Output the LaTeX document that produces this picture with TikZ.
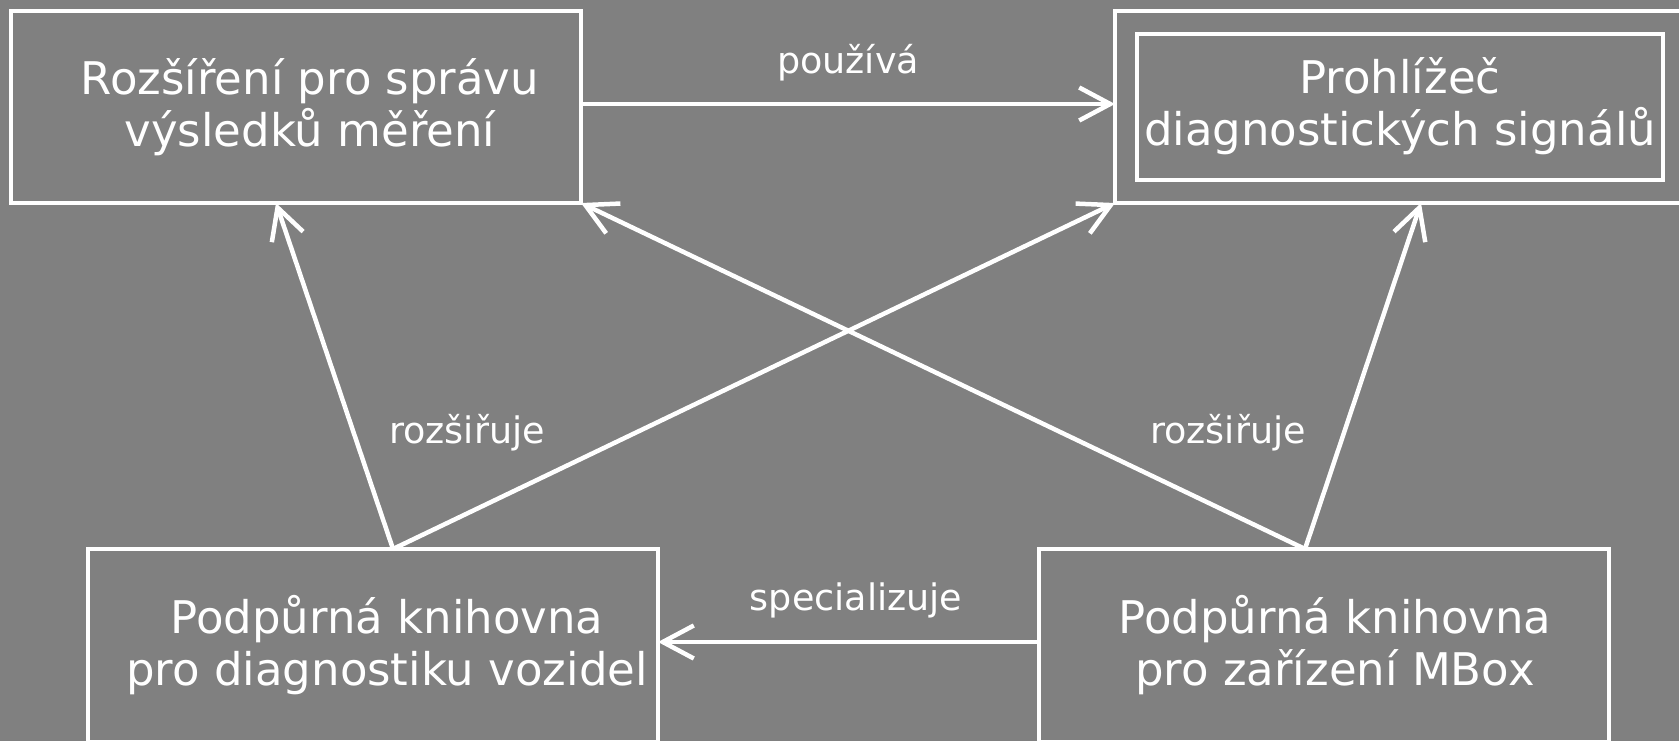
\documentclass[tikz,border=0pt]{standalone}
\usepackage{fontspec}
\setmainfont{DejaVu Sans}
\usetikzlibrary{arrows.meta}
\definecolor{bg}{HTML}{808080}
\begin{document}
\begin{tikzpicture}[x=1pt,y=-1pt,
  box/.style={draw=white, line width=4.5pt, inner sep=0pt, outer sep=0pt, anchor=north west},
  boxtext/.style={text=white, align=center, anchor=base, inner sep=0pt, font=\fontsize{45}{52}\selectfont},
  lbl/.style={text=white, anchor=base, inner sep=0pt, font=\fontsize{36.5}{44}\selectfont},
  conn/.style={draw=white, line width=4.5pt, -{Straight Barb[length=31pt,width=33pt]}},
]
\useasboundingbox (0,0) rectangle (1679,741);
\fill[bg] (0,0) rectangle (1679,741);
\clip (0,0) rectangle (1679,741);

\node[box, minimum width=570pt, minimum height=192pt] (A) at (11,11) {};
\node[box, minimum width=600pt, minimum height=192pt] (Bo) at (1115,11) {};
\node[box, minimum width=526pt, minimum height=146pt] (Bi) at (1137,34) {};
\node[box, minimum width=570pt, minimum height=193pt] (C) at (88,549) {};
\node[box, minimum width=570pt, minimum height=193pt] (D) at (1039,549) {};

\node[boxtext] (At) at (310,147) {Rozšíření pro správu\\výsledků měření};
\node[boxtext] (Bt) at (1400,146) {Prohlížeč\\diagnostických signálů};
\node[boxtext] (Ct) at (387,685) {Podpůrná knihovna\\pro diagnostiku vozidel};
\node[boxtext] (Dt) at (1335,685) {Podpůrná knihovna\\pro zařízení MBox};

\path (Bi.south) ++(21,0) coordinate (Bix);
\coordinate (Btip) at (Bix |- Bo.south);

\draw[conn] ([yshift=3pt]A.east) -- ([yshift=3pt]A.east -| Bo.west);
\draw[conn] ([xshift=20pt]C.north) -- ([xshift=-20pt]A.south);
\draw[conn] ([xshift=20pt]C.north) -- (Bo.south west);
\draw[conn] ([xshift=-19pt]D.north) -- (A.south east);
\draw[conn] ([xshift=-19pt]D.north) -- (Btip);
\draw[conn] ([yshift=3.5pt]D.west) -- ([yshift=3.5pt]C.east);

\node[lbl] (l1) at (848,74) {používá};
\node[lbl] (l2) at (467,443) {rozšiřuje};
\node[lbl] (l3) at (1228,443) {rozšiřuje};
\node[lbl] (l4) at (856,610) {specializuje};
\end{tikzpicture}
\end{document}
